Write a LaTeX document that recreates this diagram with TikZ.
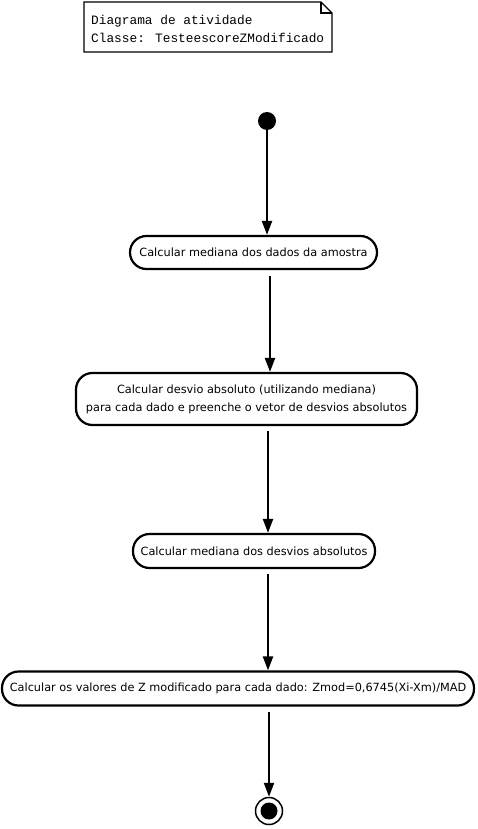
\documentclass[tikz,border=0pt]{standalone}
\usepackage{fontspec}
\setmainfont{DejaVu Sans}
\newfontfamily\notefont{Liberation Mono}
\usetikzlibrary{arrows.meta}
\tikzstyle{activity}=[draw, line width=2.2pt, rounded corners=16.5pt, inner sep=0pt, align=center, font=\fontsize{11.3}{18}\selectfont]
\tikzset{flow/.style={line width=2.2pt, -{Triangle[length=14pt,width=10pt]}}}

\begin{document}
\begin{tikzpicture}[x=1pt, y=-1pt]
    \useasboundingbox (0,0) rectangle (478,829);
    % note
    \draw[line width=1.2pt, fill=white] (84,2) -- (321,2) -- (332,13) -- (332,52) -- (84,52) -- cycle;
    \draw[line width=1.2pt] (321,2) -- (321,13) -- (332,13);
    \node[anchor=west, align=left, inner sep=0pt, font=\notefont\fontsize{12.8}{18}\selectfont] (note) at (91,29)
      {Diagrama de atividade\\Classe: TesteescoreZModificado};
    % states
    \node[circle, fill=black, minimum size=18pt, inner sep=0pt] (start) at (267,121) {};
    \node[activity, minimum width=247pt, minimum height=33pt] (media) at (253.5,252.5)
      {Calcular mediana dos dados da amostra};
    \node[activity, minimum width=341pt, minimum height=52pt] (desvio) at (246.5,399)
      {Calcular desvio absoluto (utilizando mediana)\\para cada dado e preenche o vetor de desvios absolutos};
    \node[activity, minimum width=242pt, minimum height=34pt] (mad) at (254,551)
      {Calcular mediana dos desvios absolutos};
    \node[activity, minimum width=472pt, minimum height=34pt] (zmod) at (238,688.5)
      {Calcular os valores de Z modificado para cada dado: Zmod=0,6745(Xi-Xm)/MAD};
    \node[circle, draw, line width=1.5pt, minimum size=27pt, inner sep=0pt] (fim) at (269,811) {};
    \node[circle, fill=black, minimum size=17pt, inner sep=0pt] (fimdot) at (fim) {};
    % transitions
    \coordinate (a1) at (267,121);
    \coordinate (a2) at (270,276);
    \coordinate (a3) at (268,431);
    \coordinate (a4) at (268,574);
    \coordinate (a5) at (269,712);
    \draw[flow] (start) -- (a1 |- media.north);
    \draw[flow] (a2) -- (a2 |- desvio.north);
    \draw[flow] (a3) -- (a3 |- mad.north);
    \draw[flow] (a4) -- (a4 |- zmod.north);
    \draw[flow] (a5) -- (fim.north);
  \end{tikzpicture}
\end{document}
